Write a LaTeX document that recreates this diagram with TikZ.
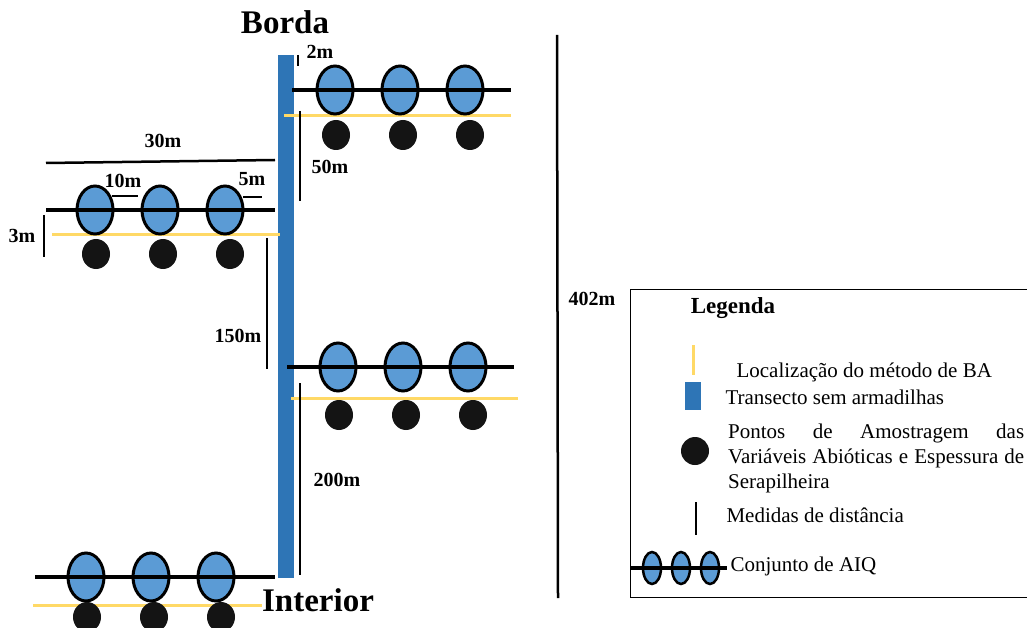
\documentclass[tikz,border=0pt]{standalone}
\usepackage{fontspec}
\setmainfont{Liberation Serif}
\definecolor{transblue}{HTML}{2E75B6}
\definecolor{aiqblue}{HTML}{5B9BD5}
\definecolor{bayellow}{HTML}{FFD966}

\begin{document}
\begin{tikzpicture}[x=1pt,y=-1pt,
  aiq/.style={draw=black,line width=3pt,fill=aiqblue},
  linha/.style={line width=3.5pt},
  ba/.style={bayellow,line width=3pt},
  medida/.style={line width=2.5pt},
  ponto/.style={fill=black!92},
  rotulo/.style={font=\fontsize{20}{23}\selectfont\bfseries},
  leg/.style={font=\fontsize{21}{25}\selectfont,anchor=west}]
 \clip (0,0) rectangle (1027,628);
 % transect
 \fill[transblue] (278,55) rectangle (294,578);
 \node[font=\fontsize{33}{36}\selectfont\bfseries] (borda) at (285,22) {Borda};
 \node[font=\fontsize{33}{36}\selectfont\bfseries] (interior) at (318,600) {Interior};
 % AIQ sets: first ellipse x / line y / line x from-to / yellow y / yellow x from-to / dot y
 \foreach \cx/\cy/\la/\lb/\yy/\ya/\yb/\dy in {335/90/292/511/116/284/511/135,
   95/210/46/275/235/52/280/254,
   338/367/287/514/398/291/518/415,
   86/577/35/275/605/33/262/617} {
   \draw[ba] (\ya,\yy) -- (\yb,\yy);
   \foreach \i in {0,1,2} {
     \draw[aiq] (\cx+65*\i,\cy) ellipse [x radius=18, y radius=24];
     \fill[ponto] (\cx+1+67*\i,\dy) ellipse [x radius=14, y radius=15];}
   \draw[linha] (\la,\cy) -- (\lb,\cy);
 }
 % distances
 \draw[medida] (298,55) -- (298,66);
 \node[rotulo] (d2) at (320,52) {2m};
 \draw[medida] (300,111) -- (300,201);
 \node[rotulo] (d50) at (330,167) {50m};
 \draw[medida] (46,163) -- (275,160);
 \node[rotulo] (d30) at (163,141) {30m};
 \draw[medida] (112,196) -- (138,196);
 \node[rotulo] (d10) at (123,181) {10m};
 \draw[medida] (243,197) -- (262,197);
 \node[rotulo] (d5) at (252,179) {5m};
 \draw[medida] (44,215) -- (44,257);
 \node[rotulo] (d3) at (22,236) {3m};
 \draw[medida] (267,238) -- (267,369);
 \node[rotulo] (d150) at (238,336) {150m};
 \draw[medida] (300,383) -- (300,575);
 \node[rotulo] (d200) at (337,480) {200m};
 \draw[medida] (557,35) -- (558,598);
 \node[rotulo] (d402) at (592,299) {402m};
 % legend
 \draw[line width=1pt] (630,289) rectangle (1040,597);
 \node[font=\fontsize{23}{26}\selectfont\bfseries] (legenda) at (733,308) {Legenda};
 \draw[ba] (693,345) -- (693,375);
 \node[leg] (locba) at (733,372) {Localização do método de BA};
 \fill[transblue] (685,382) rectangle (701,410);
 \node[leg] (trans) at (722,397) {Transecto sem armadilhas};
 \fill[ponto] (695,451) circle (14);
 \node[leg,text width=296pt,align=justify,anchor=north west,inner xsep=0pt] (pontos) at (728,420)
   {Pontos de Amostragem das\linebreak Variáveis Abióticas e Espessura de\linebreak Serapilheira};
 \draw[medida] (696,502) -- (696,535);
 \node[leg] (medidas) at (723,515) {Medidas de distância};
 \foreach \i in {0,1,2}
   \draw[aiq,line width=2.5pt] (652+29*\i,568) ellipse [x radius=9, y radius=16];
 \draw[linha] (630,568) -- (727,568);
 \node[leg] (conj) at (727,566) {Conjunto de AIQ};
\end{tikzpicture}
\end{document}
